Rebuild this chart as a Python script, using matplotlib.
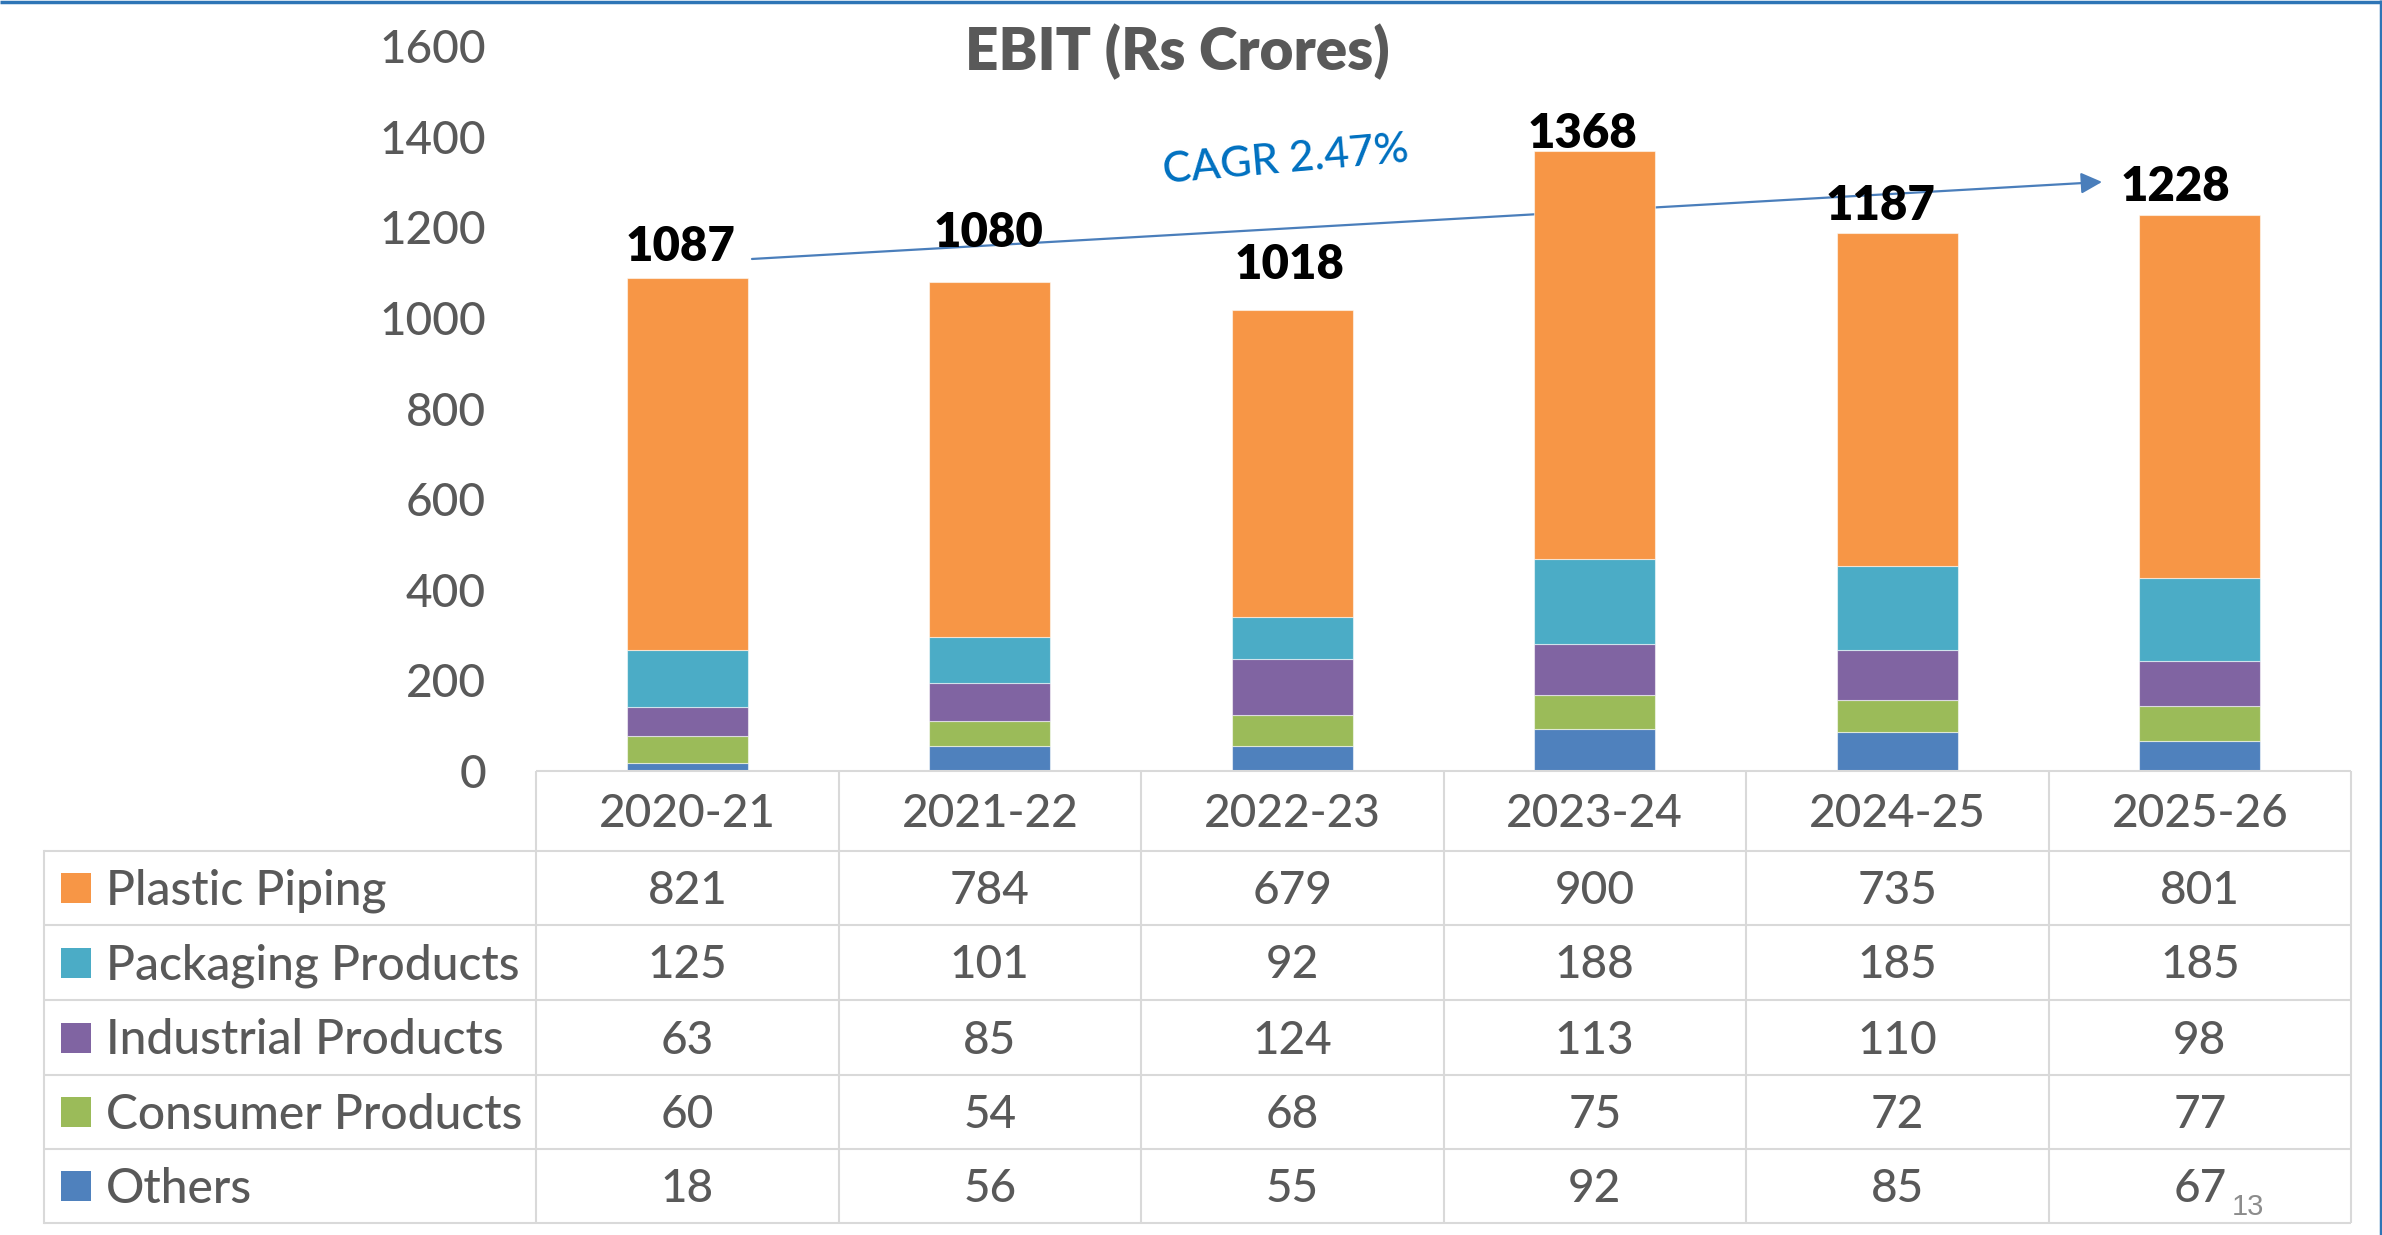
import matplotlib
matplotlib.use("Agg")
import matplotlib.pyplot as plt
import matplotlib.transforms as mtransforms
from matplotlib.patches import Rectangle

# ---------------- data ----------------
years = ['2020-21', '2021-22', '2022-23', '2023-24', '2024-25', '2025-26']
plastic_piping = [821, 784, 679, 900, 735, 801]
packaging_products = [125, 101, 92, 188, 185, 185]
industrial_products = [63, 85, 124, 113, 110, 98]
consumer_products = [60, 54, 68, 75, 72, 77]
others = [18, 56, 55, 92, 85, 67]
totals = [1087, 1080, 1018, 1368, 1187, 1228]
series_names = ['Plastic Piping', 'Packaging Products', 'Industrial Products',
                'Consumer Products', 'Others']
yticks = [0, 200, 400, 600, 800, 1000, 1200, 1400, 1600]
title_text = 'EBIT (Rs Crores)'
cagr_text = 'CAGR 2.47%'
page_number = '13'

# ---------------- style ----------------
colors = {'Plastic Piping': '#F79646', 'Packaging Products': '#4BACC6',
          'Industrial Products': '#8064A2', 'Consumer Products': '#9BBB59',
          'Others': '#4F81BD'}
label_offsets = [(-7, 31), (-1, 49), (-3, 45), (-12, 17), (-17, 27), (-24, 28)]
FONT = ['Lato', 'DejaVu Sans']
GRAY = '#595959'
GRID = '#D9D9D9'
WEIGHT = 'medium'

W, H = 2382, 1235
fig = plt.figure(figsize=(W / 100, H / 100), dpi=100)
fig.patch.set_facecolor('white')

ax_left, ax_right, ax_zero, ax_top = 536, 2351, 771, 46
ax = fig.add_axes([ax_left / W, 1 - ax_zero / H, (ax_right - ax_left) / W,
                   (ax_zero - ax_top) / H])
ax.set_xlim(-0.5, len(years) - 0.5)
ax.set_ylim(0, 1600)
for s in ax.spines.values():
    s.set_visible(False)
ax.set_xticks([])
ax.set_yticks(yticks)
ax.set_yticklabels([str(v) for v in yticks], fontsize=33, color=GRAY,
                   family=FONT, fontweight=WEIGHT)
ax.tick_params(axis='y', length=0, pad=36)
ax.patch.set_alpha(0)

# stacked bars (bottom -> top)
stack = [('Others', others), ('Consumer Products', consumer_products),
         ('Industrial Products', industrial_products),
         ('Packaging Products', packaging_products),
         ('Plastic Piping', plastic_piping)]
x = list(range(len(years)))
bottom = [0] * len(years)
for name, vals in stack:
    ax.bar(x, vals, width=0.4, bottom=bottom, color=colors[name],
           edgecolor=(1, 1, 1, 0.55), linewidth=0.8, zorder=3)
    bottom = [b + v for b, v in zip(bottom, vals)]

# total labels
for i, t in enumerate(totals):
    dx, dy = label_offsets[i]
    ax.annotate(str(t), xy=(i, t), xytext=(dx, dy), textcoords='offset pixels',
                ha='center', va='center', fontsize=34, fontweight='heavy',
                color='black', family=FONT, zorder=6, annotation_clip=False)

# CAGR arrow (behind bars)
ax.annotate('', xy=(4.677, 1300), xytext=(0.214, 1130),
            arrowprops=dict(arrowstyle='-|>', color='#4A7EBB', lw=1.6,
                            mutation_scale=32, shrinkA=0, shrinkB=0),
            zorder=1, annotation_clip=False)

# overlay axes in pixel coordinates (y downward)
ov = fig.add_axes([0, 0, 1, 1])
ov.set_xlim(0, W)
ov.set_ylim(H, 0)
ov.axis('off')
ov.patch.set_alpha(0)
ov.set_zorder(5)
blend = mtransforms.blended_transform_factory(ax.transData, ov.transData)

# title & CAGR text
ov.text(1177, 52, title_text, ha='center', va='center', fontsize=42,
        fontweight='heavy', color=GRAY, family=FONT)
ov.text(1286, 160, cagr_text, ha='center', va='center', fontsize=31,
        color='#0070C0', family=FONT, rotation=5, fontweight=WEIGHT)

# table
row_edges = [851, 925, 1000, 1075, 1149, 1223]
header_top = ax_zero
table_left = 44
lw = 1.5
x_end = ax.transData.transform((len(years) - 0.5, 0))[0]
ov.plot([-0.5, len(years) - 0.5], [header_top, header_top], color=GRID, lw=lw,
        transform=blend, solid_capstyle='butt')
for ye in row_edges:
    ov.plot([table_left, x_end], [ye, ye], color=GRID, lw=lw, solid_capstyle='butt')
for k in range(len(years) + 1):
    ov.plot([k - 0.5, k - 0.5], [header_top, row_edges[-1]], color=GRID, lw=lw,
            transform=blend, solid_capstyle='butt')
ov.plot([table_left, table_left], [row_edges[0], row_edges[-1]], color=GRID, lw=lw)

fs_tab = 33
for i, yr in enumerate(years):
    ov.text(i, (header_top + row_edges[0]) / 2 + 3, yr, ha='center', va='center',
            fontsize=fs_tab, color=GRAY, family=FONT, transform=blend,
            fontweight=WEIGHT)

table_series = [plastic_piping, packaging_products, industrial_products,
                consumer_products, others]
for r, (name, vals) in enumerate(zip(series_names, table_series)):
    yc = (row_edges[r] + row_edges[r + 1]) / 2
    ov.add_patch(Rectangle((61, yc - 15), 30, 30, facecolor=colors[name],
                           edgecolor='none'))
    ov.text(106, yc + 3, name, ha='left', va='center', fontsize=34.5,
            color=GRAY, family=FONT, fontweight=WEIGHT)
    for i, v in enumerate(vals):
        ov.text(i, yc + 3, str(v), ha='center', va='center', fontsize=fs_tab,
                color=GRAY, family=FONT, transform=blend, fontweight=WEIGHT)

# page number
ov.text(2232, 1215, page_number, ha='left', va='baseline', fontsize=21,
        color='#8C8C8C', family=['Liberation Sans', 'DejaVu Sans'])

# slide border (blue)
ov.plot([0, W], [1.5, 1.5], color='#2E75B6', lw=2.5, solid_capstyle='butt')
ov.plot([W - 1.5, W - 1.5], [0, H], color='#2E75B6', lw=2.5, solid_capstyle='butt')

fig.savefig('out.png', dpi=100, facecolor='white')
